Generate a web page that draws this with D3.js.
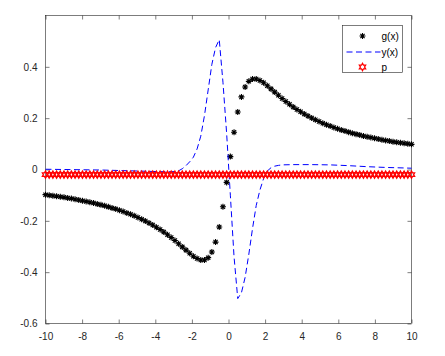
<!DOCTYPE html>
<html>
<head>
<meta charset="utf-8">
<script src="https://cdn.jsdelivr.net/npm/d3@7"></script>
<style>
  body { margin: 0; background: #fff; }
  svg { display: block; font-family: "Liberation Sans", Arial, sans-serif; }
  .tick text { font-size: 10px; fill: #262626; }
</style>
</head>
<body>
<script>
// sample positions (100 points from -10 to 10)
var xs = [
  -10, -9.798, -9.596, -9.394, -9.192, -8.990, -8.788, -8.586, -8.384, -8.182,
  -7.980, -7.778, -7.576, -7.374, -7.172, -6.970, -6.768, -6.566, -6.364, -6.162,
  -5.960, -5.758, -5.556, -5.354, -5.152, -4.949, -4.747, -4.545, -4.343, -4.141,
  -3.939, -3.737, -3.535, -3.333, -3.131, -2.929, -2.727, -2.525, -2.323, -2.121,
  -1.919, -1.717, -1.515, -1.313, -1.111, -0.909, -0.707, -0.505, -0.303, -0.101,
  0.101, 0.303, 0.505, 0.707, 0.909, 1.111, 1.313, 1.515, 1.717, 1.919,
  2.121, 2.323, 2.525, 2.727, 2.929, 3.131, 3.333, 3.535, 3.737, 3.939,
  4.141, 4.343, 4.545, 4.747, 4.949, 5.152, 5.354, 5.556, 5.758, 5.960,
  6.162, 6.364, 6.566, 6.768, 6.970, 7.172, 7.374, 7.576, 7.778, 7.980,
  8.182, 8.384, 8.586, 8.788, 8.990, 9.192, 9.394, 9.596, 9.798, 10
];

// g(x) asterisks
var gValues = [
  -0.0980, -0.1000, -0.1020, -0.1041, -0.1063, -0.1085, -0.1109, -0.1134, -0.1160, -0.1187,
  -0.1215, -0.1245, -0.1276, -0.1308, -0.1342, -0.1378, -0.1416, -0.1456, -0.1497, -0.1542,
  -0.1588, -0.1638, -0.1691, -0.1746, -0.1805, -0.1868, -0.1935, -0.2006, -0.2082, -0.2163,
  -0.2249, -0.2340, -0.2438, -0.2542, -0.2652, -0.2768, -0.2890, -0.3015, -0.3141, -0.3264,
  -0.3377, -0.3470, -0.3527, -0.3526, -0.3435, -0.3217, -0.2828, -0.2239, -0.1449, -0.0502,
  0.0502, 0.1449, 0.2239, 0.2828, 0.3217, 0.3435, 0.3526, 0.3527, 0.3470, 0.3377,
  0.3264, 0.3141, 0.3015, 0.2890, 0.2768, 0.2652, 0.2542, 0.2438, 0.2340, 0.2249,
  0.2163, 0.2082, 0.2006, 0.1935, 0.1868, 0.1805, 0.1746, 0.1691, 0.1638, 0.1588,
  0.1542, 0.1497, 0.1456, 0.1416, 0.1378, 0.1342, 0.1308, 0.1276, 0.1245, 0.1215,
  0.1187, 0.1160, 0.1134, 0.1109, 0.1085, 0.1063, 0.1041, 0.1020, 0.1000, 0.0980
];

// p hexagrams
var pValues = [
  -0.02, -0.02, -0.02, -0.02, -0.02, -0.02, -0.02, -0.02, -0.02, -0.02,
  -0.02, -0.02, -0.02, -0.02, -0.02, -0.02, -0.02, -0.02, -0.02, -0.02,
  -0.02, -0.02, -0.02, -0.02, -0.02, -0.02, -0.02, -0.02, -0.02, -0.02,
  -0.02, -0.02, -0.02, -0.02, -0.02, -0.02, -0.02, -0.02, -0.02, -0.02,
  -0.02, -0.02, -0.02, -0.02, -0.02, -0.02, -0.02, -0.02, -0.02, -0.02,
  -0.02, -0.02, -0.02, -0.02, -0.02, -0.02, -0.02, -0.02, -0.02, -0.02,
  -0.02, -0.02, -0.02, -0.02, -0.02, -0.02, -0.02, -0.02, -0.02, -0.02,
  -0.02, -0.02, -0.02, -0.02, -0.02, -0.02, -0.02, -0.02, -0.02, -0.02,
  -0.02, -0.02, -0.02, -0.02, -0.02, -0.02, -0.02, -0.02, -0.02, -0.02,
  -0.02, -0.02, -0.02, -0.02, -0.02, -0.02, -0.02, -0.02, -0.02, -0.02
];

// y(x) dashed line
var yLineX = [
  -10, -8.990, -7.980, -6.970, -5.960, -4.949, -3.939, -3.333, -2.929, -2.727,
  -2.525, -2.323, -2.121, -1.919, -1.717, -1.515, -1.313, -1.111, -0.909, -0.707,
  -0.505, -0.303, -0.101, 0.101, 0.303, 0.505, 0.707, 0.909, 1.111, 1.313,
  1.515, 1.717, 1.919, 2.121, 2.323, 2.525, 2.727, 2.929, 3.535, 4.545,
  5.556, 6.566, 7.576, 8.586, 9.596, 10
];
var yLineY = [
  0.001, 0.000, -0.001, -0.002, -0.004, -0.006, -0.008, -0.009, -0.008, -0.005,
  0.003, 0.015, 0.030, 0.048, 0.080, 0.130, 0.210, 0.310, 0.410, 0.475,
  0.506, 0.340, 0.140, -0.100, -0.340, -0.503, -0.480, -0.420, -0.330, -0.230,
  -0.140, -0.080, -0.035, -0.006, 0.007, 0.013, 0.016, 0.018, 0.019, 0.019,
  0.018, 0.015, 0.011, 0.008, 0.006, 0.005
];

var xTicks = [-10, -8, -6, -4, -2, 0, 2, 4, 6, 8, 10];
var yTicks = [-0.6, -0.4, -0.2, 0, 0.2, 0.4];
var legendLabels = ["g(x)", "y(x)", "p"];

var W = 445, H = 356;
var margin = {top: 15.5, right: 33.5, bottom: 32.5, left: 45.5};
var width = W - margin.left - margin.right,
    height = H - margin.top - margin.bottom;

var xScale = d3.scaleLinear().domain([-10, 10]).range([0, width]);
var yScale = d3.scaleLinear().domain([-0.6, 0.6]).range([height, 0]);

var svg = d3.select("body").append("svg")
    .attr("width", W)
    .attr("height", H);

var g = svg.append("g")
    .attr("transform", "translate(" + margin.left + "," + margin.top + ")");

var axisColor = "#262626";

// axes with inward ticks (matlab style), plus mirrored ticks on top/right
function styleAxis(sel) {
  sel.select(".domain").remove();
  sel.selectAll(".tick line").attr("stroke", axisColor).attr("stroke-width", 0.6);
}

g.append("g")
    .attr("transform", "translate(0," + height + ")")
    .call(d3.axisBottom(xScale).tickValues(xTicks).tickSize(-4).tickPadding(9)
      .tickFormat(function(d) { return String(d); }))
    .call(styleAxis);

g.append("g")
    .call(d3.axisTop(xScale).tickValues(xTicks).tickSize(-4).tickFormat(""))
    .call(styleAxis);

g.append("g")
    .call(d3.axisLeft(yScale).tickValues(yTicks).tickSize(-4).tickPadding(8)
      .tickFormat(function(d) { return d === 0 ? "0" : d.toFixed(1); }))
    .call(styleAxis);

g.append("g")
    .attr("transform", "translate(" + width + ",0)")
    .call(d3.axisRight(yScale).tickValues(yTicks).tickSize(-4).tickFormat(""))
    .call(styleAxis);

g.append("rect")
    .attr("width", width)
    .attr("height", height)
    .attr("fill", "none")
    .attr("stroke", axisColor)
    .attr("stroke-width", 0.6);

// marker shapes
function asterisk(r) {
  var d = r * Math.SQRT1_2;
  return "M" + (-r) + ",0L" + r + ",0M0," + (-r) + "L0," + r +
    "M" + (-d) + "," + (-d) + "L" + d + "," + d +
    "M" + (-d) + "," + d + "L" + d + "," + (-d);
}
function hexagram(r) {
  var pts = [];
  for (var k = 0; k < 12; k++) {
    var a = -Math.PI / 2 + k * Math.PI / 6;
    var rr = k % 2 === 0 ? r : r * 0.577;
    pts.push([rr * Math.cos(a), rr * Math.sin(a)]);
  }
  return "M" + pts.join("L") + "Z";
}

var plot = g.append("g");

// g(x)
plot.selectAll(".gpt")
    .data(xs)
  .enter().append("path")
    .attr("class", "gpt")
    .attr("transform", function(d, i) { return "translate(" + xScale(d) + "," + yScale(gValues[i]) + ")"; })
    .attr("d", asterisk(3))
    .attr("stroke", "#000")
    .attr("stroke-width", 1.1)
    .attr("fill", "none");

// y(x)
var line = d3.line()
    .x(function(d, i) { return xScale(yLineX[i]); })
    .y(function(d) { return yScale(d); });

plot.append("path")
    .datum(yLineY)
    .attr("d", line)
    .attr("fill", "none")
    .attr("stroke", "#0000ff")
    .attr("stroke-width", 1)
    .attr("stroke-dasharray", "6,3.5");

// p
plot.selectAll(".ppt")
    .data(xs)
  .enter().append("path")
    .attr("class", "ppt")
    .attr("transform", function(d, i) { return "translate(" + xScale(d) + "," + yScale(pValues[i]) + ")"; })
    .attr("d", hexagram(3.6))
    .attr("stroke", "#ff0000")
    .attr("stroke-width", 1.3)
    .attr("fill", "none");

// legend
var legend = svg.append("g").attr("transform", "translate(342.5,25.5)");
legend.append("rect")
    .attr("width", 60)
    .attr("height", 47)
    .attr("fill", "#fff")
    .attr("stroke", axisColor)
    .attr("stroke-width", 0.6);

var rowY = [10.5, 26.5, 41.5];
legendLabels.forEach(function(lbl, i) {
  var row = legend.append("g").attr("transform", "translate(0," + rowY[i] + ")");
  if (i === 0) {
    row.append("path").attr("transform", "translate(20,0)").attr("d", asterisk(3))
      .attr("stroke", "#000").attr("stroke-width", 1.1).attr("fill", "none");
  } else if (i === 1) {
    row.append("line").attr("x1", 4).attr("x2", 38)
      .attr("stroke", "#0000ff").attr("stroke-width", 1.2).attr("stroke-dasharray", "6,3.5");
  } else {
    row.append("path").attr("transform", "translate(20,0)").attr("d", hexagram(3.6))
      .attr("stroke", "#ff0000").attr("stroke-width", 1.3).attr("fill", "none");
  }
  row.append("text")
      .attr("x", 39)
      .attr("dy", "0.35em")
      .attr("font-size", 10)
      .attr("fill", "#000")
      .text(lbl);
});
</script>
</body>
</html>
